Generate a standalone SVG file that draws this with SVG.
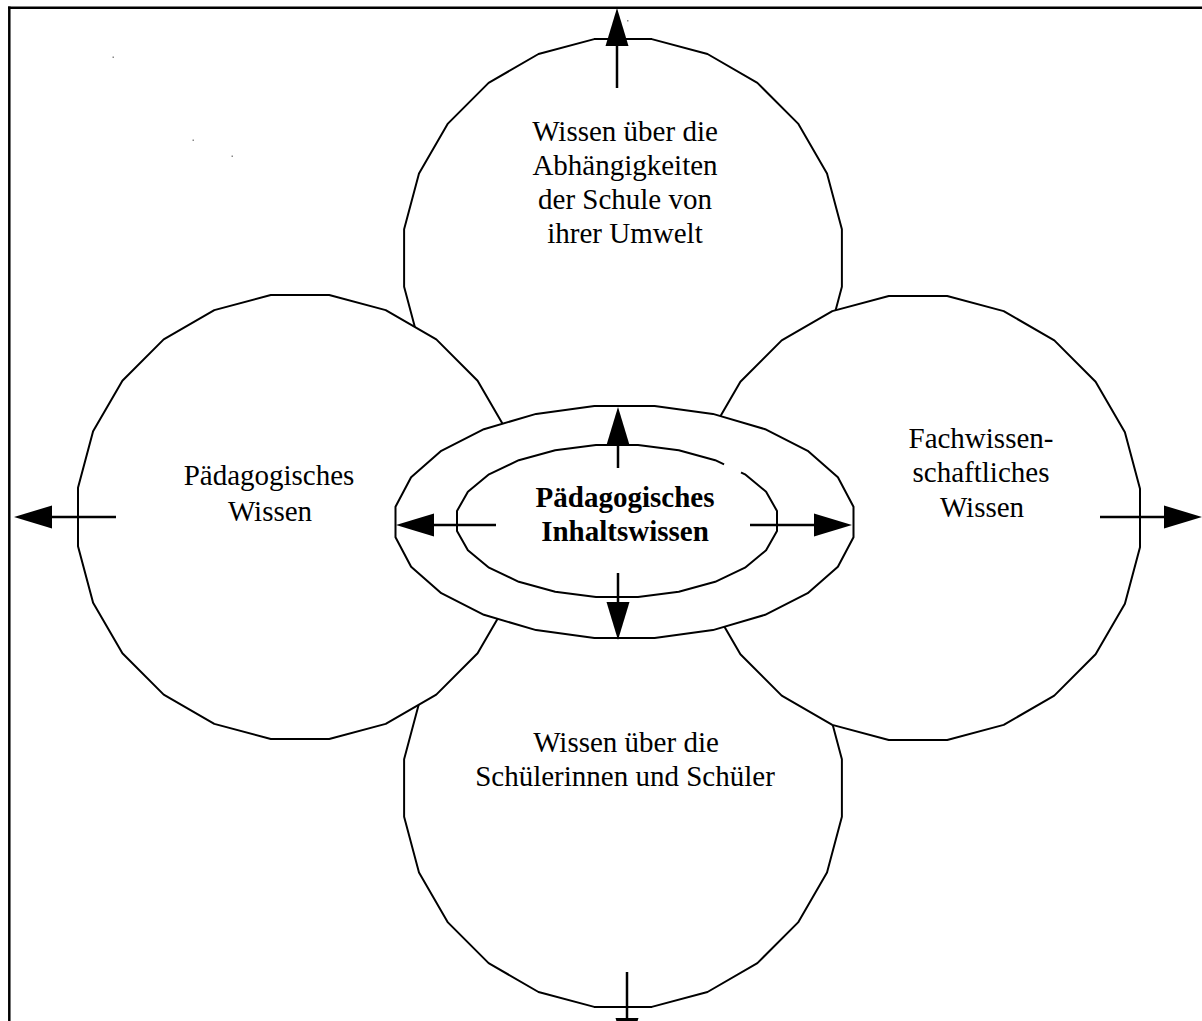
<svg xmlns="http://www.w3.org/2000/svg" xmlns:xlink="http://www.w3.org/1999/xlink" width="1202" height="1021" viewBox="0 0 1202 1021">
<style>
.shape{fill:#fff;stroke:#000;stroke-width:2;stroke-linejoin:round}
.lbl{font-family:"Liberation Serif","Times New Roman",serif;font-size:29px;fill:#000;text-anchor:middle}
.bold{font-weight:bold}
.conn{stroke:#000;stroke-width:2.5;fill:none}
.frame{stroke:#000;stroke-width:2.5;fill:none}
</style>
<defs>
<polygon id="poly" points="222,29.2 206.9,85.7 177.6,136.3 136.3,177.6 85.7,206.9 29.2,222 -29.2,222 -85.7,206.9 -136.3,177.6 -177.6,136.3 -206.9,85.7 -222,29.2 -222,-29.2 -206.9,-85.7 -177.6,-136.3 -136.3,-177.6 -85.7,-206.9 -29.2,-222 29.2,-222 85.7,-206.9 136.3,-177.6 177.6,-136.3 206.9,-85.7 222,-29.2"/>
<marker id="ah" markerUnits="userSpaceOnUse" markerWidth="40" markerHeight="26" viewBox="0 -13 40 26" refX="0" refY="0" orient="auto">
<path d="M0,-11.5 L38,0 L0,11.5 Z" fill="#000"/>
</marker>
</defs>
<rect width="1202" height="1021" fill="#fff"/>
<g id="frame">
<line class="frame" x1="8" y1="7.7" x2="1202" y2="7.7"/>
<line class="frame" x1="9.3" y1="6.5" x2="9.3" y2="1021"/>
</g>
<g id="specks" fill="#888">
<rect x="112.5" y="56.5" width="1.5" height="1.5"/>
<rect x="192.5" y="139.5" width="1.5" height="1.5"/>
<rect x="231.5" y="155.5" width="1.5" height="1.5"/>
<rect x="627" y="20" width="1.5" height="1.5"/>
</g>
<g id="node-umwelt">
<use xlink:href="#poly" class="shape" transform="translate(623,258) scale(0.986)"/>
<text class="lbl" x="625" y="141">Wissen über die</text>
<text class="lbl" x="625" y="175">Abhängigkeiten</text>
<text class="lbl" x="625" y="209">der Schule von</text>
<text class="lbl" x="625" y="243">ihrer Umwelt</text>
</g>
<g id="node-schueler">
<use xlink:href="#poly" class="shape" transform="translate(623,788) scale(0.986)"/>
<text class="lbl" x="626" y="752">Wissen über die</text>
<text class="lbl" x="625" y="786">Schülerinnen und Schüler</text>
</g>
<g id="node-paedagogisch">
<use xlink:href="#poly" class="shape" transform="translate(300,517)"/>
<text class="lbl" x="269" y="485">Pädagogisches</text>
<text class="lbl" x="270" y="521">Wissen</text>
</g>
<g id="node-fach">
<use xlink:href="#poly" class="shape" transform="translate(918,518)"/>
<text class="lbl" x="981" y="448">Fachwissen-</text>
<text class="lbl" x="981" y="482">schaftliches</text>
<text class="lbl" x="982" y="517">Wissen</text>
</g>
<g id="node-inhalt">
<polygon class="shape" points="853.5,537.3 837.9,566.8 807.7,593.2 765.1,614.8 712.9,630.1 654.6,638 594.4,638 536.1,630.1 483.9,614.8 441.3,593.2 411.1,566.8 395.5,537.3 395.5,506.7 411.1,477.2 441.3,450.8 483.9,429.2 536.1,413.9 594.4,406 654.6,406 712.9,413.9 765.1,429.2 807.7,450.8 837.9,477.2 853.5,506.7"/>
<polygon class="shape" points="777,531 766.1,550.3 745,567.7 715.2,581.8 678.8,591.8 638,597 596,597 555.2,591.8 518.8,581.8 489,567.7 467.9,550.3 457,531 457,511 467.9,491.7 489,474.3 518.8,460.2 555.2,450.2 596,445 638,445 678.8,450.2 715.2,460.2 745,474.3 766.1,491.7 777,511"/>
<line x1="724" y1="464.4" x2="741" y2="472.4" stroke="#fff" stroke-width="5"/>
<text class="lbl bold" x="625" y="507">Pädagogisches</text>
<text class="lbl bold" x="625" y="541">Inhaltswissen</text>
</g>
<g id="connectors">
<line class="conn" x1="617" y1="88" x2="617" y2="46" marker-end="url(#ah)"/>
<line class="conn" x1="116" y1="517" x2="52" y2="517" marker-end="url(#ah)"/>
<line class="conn" x1="1100" y1="517" x2="1164" y2="517" marker-end="url(#ah)"/>
<line class="conn" x1="627" y1="972" x2="627" y2="1018" marker-end="url(#ah)"/>
<line class="conn" x1="618" y1="468" x2="618" y2="445" marker-end="url(#ah)"/>
<line class="conn" x1="618" y1="573" x2="618" y2="602" marker-end="url(#ah)"/>
<line class="conn" x1="496" y1="525" x2="434" y2="525" marker-end="url(#ah)"/>
<line class="conn" x1="750" y1="525" x2="814" y2="525" marker-end="url(#ah)"/>
</g>
</svg>
